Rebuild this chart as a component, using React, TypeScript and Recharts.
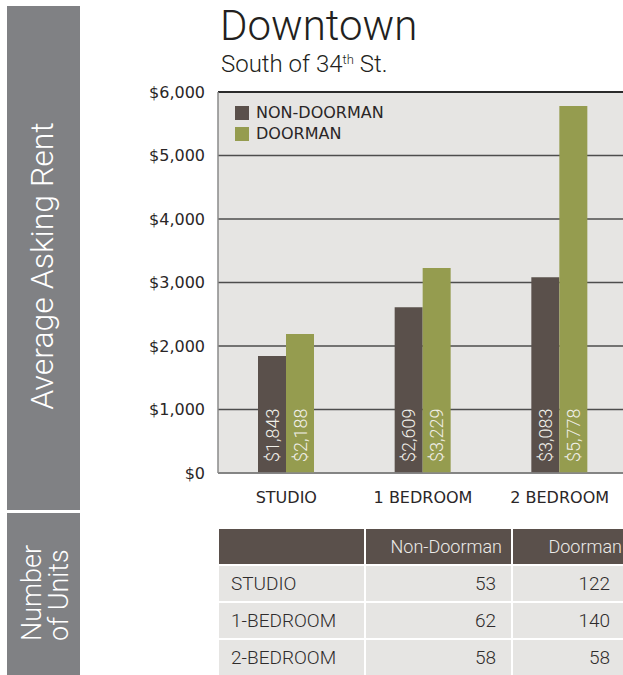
import React from "react";
import { BarChart, Bar, XAxis, YAxis, CartesianGrid, ReferenceLine, LabelList, Legend } from "recharts";

const categories = ["STUDIO", "1 BEDROOM", "2 BEDROOM"];
const nonDoormanRent = [1843, 2609, 3083];
const doormanRent = [2188, 3229, 5778];
const yTicks = [0, 1000, 2000, 3000, 4000, 5000, 6000];
const seriesNames = ["NON-DOORMAN", "DOORMAN"];

const unitRows = ["STUDIO", "1-BEDROOM", "2-BEDROOM"];
const nonDoormanUnits = [53, 62, 58];
const doormanUnits = [122, 140, 58];

const data = categories.map((name, i) => ({
  name,
  nonDoorman: nonDoormanRent[i],
  doorman: doormanRent[i],
}));

const DARK = "#5a504b";
const OLIVE = "#959c4f";
const PANEL = "#e6e5e3";
const SIDE = "#808184";
const LIGHT = "Roboto, 'Liberation Sans', sans-serif";
const TICK = "'DejaVu Sans', Verdana, sans-serif";

// rotated value inside the bar, reading bottom to top
const BarValue = (props: any) => {
  const { x, y, width, height, value } = props;
  const cx = x + width / 2;
  const by = y + height - 11;
  return (
    <text
      x={cx}
      y={by}
      transform={`rotate(-90 ${cx} ${by})`}
      textAnchor="start"
      dominantBaseline="central"
      fill="#f1efe9"
      fontSize={18}
      fontFamily={LIGHT}
      fontWeight={300}
    >
      {"$" + Number(value).toLocaleString("en-US")}
    </text>
  );
};

const LegendBox = ({ payload }: any) => {
  const items = [...(payload || [])].sort(
    (a: any, b: any) => seriesNames.indexOf(a.value) - seriesNames.indexOf(b.value)
  );
  return (
    <div>
      {items.map((p: any) => (
        <div key={p.value} style={{ display: "flex", alignItems: "center", height: 21 }}>
          <span style={{ width: 14, height: 14, background: p.color, marginRight: 7, display: "inline-block" }} />
          <span style={{ fontFamily: TICK, fontSize: 16, color: "#2a2627" }}>{p.value}</span>
        </div>
      ))}
    </div>
  );
};

export default function App() {
  const cellBase: React.CSSProperties = {
    background: PANEL,
    display: "flex",
    alignItems: "center",
    fontFamily: LIGHT,
    fontWeight: 300,
    fontSize: 19,
    color: "#2f2c2c",
  };

  return (
    <div style={{ position: "absolute", left: 0, top: 0, width: 623, height: 675, overflow: "hidden", background: "#fff" }}>
      {/* side panels */}
      <div style={{ position: "absolute", left: 7, top: 6, width: 73, height: 504, background: SIDE }}>
        <svg width={73} height={504}>
          <text
            x={46}
            y={260}
            transform="rotate(-90 46 260)"
            textAnchor="middle"
            fill="#fff"
            fontSize={32}
            fontFamily={LIGHT}
            fontWeight={300}
          >
            Average Asking Rent
          </text>
        </svg>
      </div>
      <div style={{ position: "absolute", left: 7, top: 513, width: 73, height: 162, background: SIDE }}>
        <svg width={73} height={162}>
          <text x={34} y={128} transform="rotate(-90 34 128)" textAnchor="start" fill="#fff" fontSize={27} fontFamily={LIGHT} fontWeight={300}>
            Number
          </text>
          <text x={61} y={128} transform="rotate(-90 61 128)" textAnchor="start" fill="#fff" fontSize={27} fontFamily={LIGHT} fontWeight={300}>
            of Units
          </text>
        </svg>
      </div>

      {/* titles */}
      <div style={{ position: "absolute", left: 220, top: 5, fontFamily: LIGHT, fontWeight: 300, fontSize: 42, lineHeight: "42px", color: "#231f20" }}>
        Downtown
      </div>
      <div style={{ position: "absolute", left: 221, top: 52, fontFamily: LIGHT, fontWeight: 300, fontSize: 24, lineHeight: "24px", color: "#231f20", whiteSpace: "nowrap" }}>
        South of 34<sup style={{ fontSize: 13, lineHeight: 0, verticalAlign: "8px" }}>th</sup> St.
      </div>

      {/* chart */}
      <div style={{ position: "absolute", left: 139, top: 80 }}>
        <BarChart width={489} height={430} data={data} margin={{ top: 12, right: 0, bottom: 0, left: 0 }} barGap={0}>
          <CartesianGrid vertical={false} fill={PANEL} fillOpacity={1} stroke="#4d4d4d" strokeWidth={1.3} />
          <XAxis
            dataKey="name"
            interval={0}
            height={37}
            tickLine={false}
            tickSize={0}
            tickMargin={19}
            axisLine={{ stroke: "#8a8a8a", strokeWidth: 1.5 }}
            tick={{ fontSize: 16, fontFamily: TICK, fill: "#2a2627" }}
          />
          <YAxis
            width={79}
            domain={[0, 6000]}
            ticks={yTicks}
            interval={0}
            tickLine={false}
            tickSize={0}
            tickMargin={13}
            axisLine={{ stroke: "#8a8a8a", strokeWidth: 1.5 }}
            tickFormatter={(v: number) => "$" + v.toLocaleString("en-US")}
            tick={{ fontSize: 16, fontFamily: TICK, fill: "#2a2627" }}
          />
          <ReferenceLine y={6000} stroke="#2b2b2b" strokeWidth={2} />
          <Legend
            layout="vertical"
            align="center"
            verticalAlign="middle"
            content={<LegendBox />}
            wrapperStyle={{ left: 96, top: 22, width: 200 }}
          />
          <Bar dataKey="nonDoorman" name="NON-DOORMAN" fill={DARK} barSize={28} isAnimationActive={false}>
            <LabelList dataKey="nonDoorman" content={<BarValue />} />
          </Bar>
          <Bar dataKey="doorman" name="DOORMAN" fill={OLIVE} barSize={28} isAnimationActive={false}>
            <LabelList dataKey="doorman" content={<BarValue />} />
          </Bar>
        </BarChart>
      </div>

      {/* units table */}
      <div
        style={{
          position: "absolute",
          left: 219,
          top: 529,
          display: "grid",
          gridTemplateColumns: "145px 145px 118px",
          gridTemplateRows: "35px 35px 35px 35px",
          columnGap: 2,
          rowGap: 2,
        }}
      >
        <div style={{ background: DARK }} />
        <div style={{ ...cellBase, fontSize: 18, background: DARK, color: "#ecebe8", justifyContent: "flex-end", paddingRight: 9 }}>Non-Doorman</div>
        <div style={{ ...cellBase, fontSize: 18, background: DARK, color: "#ecebe8", justifyContent: "flex-end", paddingRight: 9 }}>Doorman</div>
        {unitRows.map((r, i) => (
          <React.Fragment key={r}>
            <div style={{ ...cellBase, paddingLeft: 12 }}>{r}</div>
            <div style={{ ...cellBase, justifyContent: "flex-end", paddingRight: 15 }}>{nonDoormanUnits[i]}</div>
            <div style={{ ...cellBase, justifyContent: "flex-end", paddingRight: 21 }}>{doormanUnits[i]}</div>
          </React.Fragment>
        ))}
      </div>
    </div>
  );
}
